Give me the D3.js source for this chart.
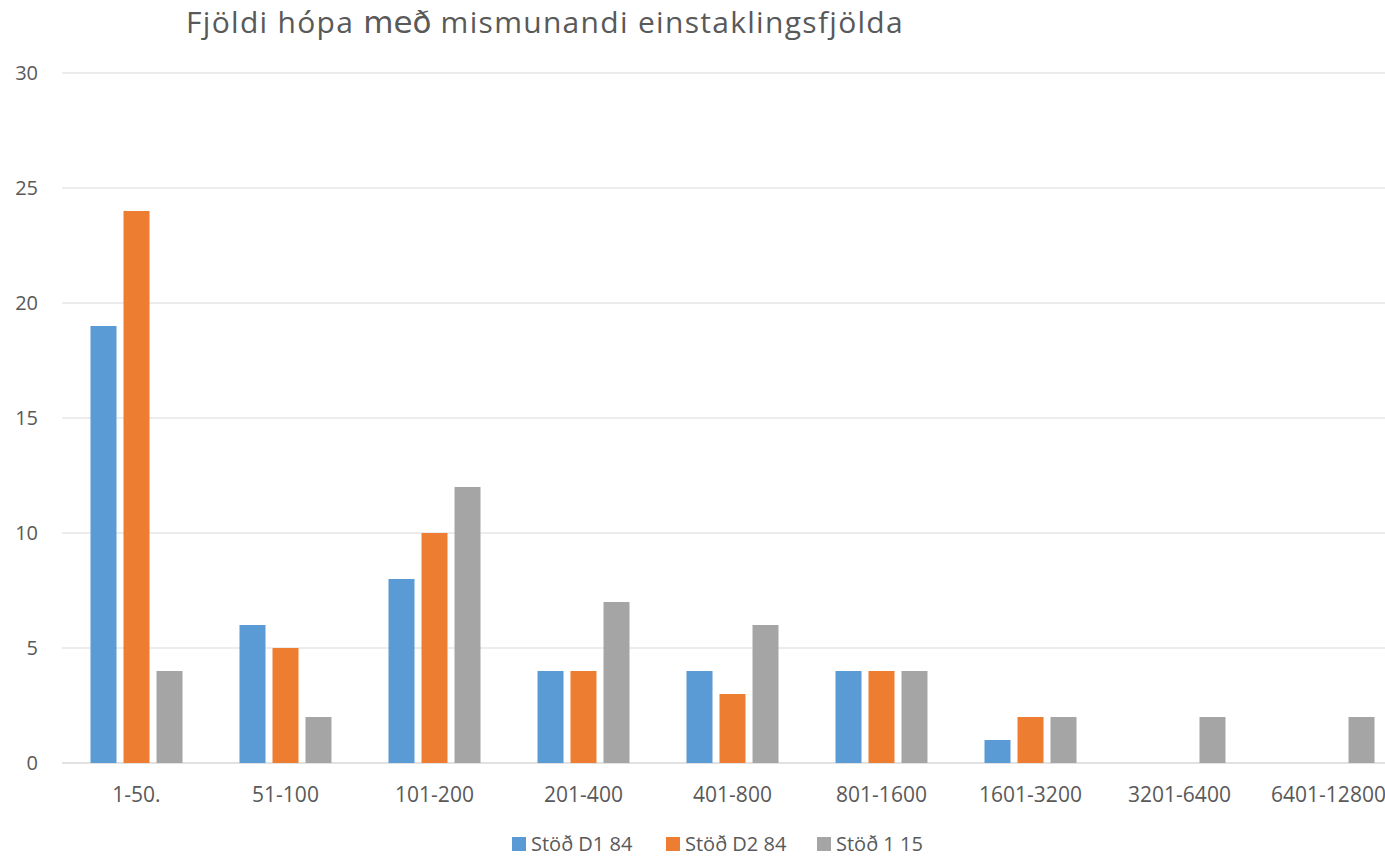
<!DOCTYPE html>
<html><head><meta charset="utf-8">
<script src="https://cdn.jsdelivr.net/npm/d3@7"></script>
<style>body{margin:0;background:#fff}svg{display:block}</style>
</head><body>
<svg id="c" width="1385" height="856"></svg>
<script>
const categories = ["1-50.","51-100","101-200","201-400","401-800","801-1600","1601-3200","3201-6400","6401-12800"];
const seriesNames = ["Stöð D1 84","Stöð D2 84","Stöð 1 15"];
const seriesD1 = [19,6,8,4,4,4,1,0,0];
const seriesD2 = [24,5,10,4,3,4,2,0,0];
const series115 = [4,2,12,7,6,4,2,2,2];
const yTicks = [0,5,10,15,20,25,30];
const colors = ["#5B9BD5","#ED7D31","#A5A5A5"];

(function(){
const allSeries = [seriesD1, seriesD2, series115];
const svg = d3.select("#c");
const font = "'Open Sans', 'Liberation Sans', sans-serif";
const pL = 62, pR = 1403, pT = 73, pB = 763;

const x0 = d3.scaleBand().domain(categories).range([pL, pR]).padding(0);
const step = x0.bandwidth();
const groupW = 92;
const x1 = d3.scaleBand().domain(seriesNames).range([(step-groupW)/2, (step+groupW)/2]).paddingInner(7/33).paddingOuter(0);
const y = d3.scaleLinear().domain([0,30]).range([pB, pT]);

svg.append("g").selectAll("line").data(yTicks).join("line")
  .attr("x1", pL).attr("x2", 1385)
  .attr("y1", d => y(d)).attr("y2", d => y(d))
  .attr("stroke", "#D9D9D9").attr("stroke-width", d => d===0 ? 1.5 : 1.2);

svg.append("g").selectAll("text").data(yTicks).join("text")
  .attr("x", 38).attr("y", d => y(d)).attr("dy", "0.36em")
  .attr("text-anchor", "end").attr("font-family", font).attr("font-size", 20)
  .attr("fill", "#595959").text(d => d);

const g = svg.append("g");
categories.forEach((c, i) => {
  seriesNames.forEach((s, j) => {
    const v = allSeries[j][i];
    if (v > 0) {
      g.append("rect")
        .attr("x", x0(c) + x1(s)).attr("width", x1.bandwidth())
        .attr("y", y(v)).attr("height", y(0) - y(v))
        .attr("fill", colors[j]);
    }
  });
});

svg.append("g").selectAll("text").data(categories).join("text")
  .attr("x", d => x0(d) + step/2).attr("y", 802)
  .attr("text-anchor", "middle").attr("font-family", font).attr("font-size", 21)
  .attr("fill", "#595959").text(d => d);

const t = svg.append("text").attr("x", 186).attr("y", 33)
  .attr("font-family", font).attr("font-size", 30).attr("fill", "#595959")
  .attr("letter-spacing", 1.3);
t.append("tspan").text("Fjöldi hópa ");
t.append("tspan").attr("font-family", "'DejaVu Sans', sans-serif").attr("font-size", 31).attr("letter-spacing", 0).text("með");
t.append("tspan").text(" mismunandi einstaklingsfjölda");

const legX = [512, 666, 817];
const lg = svg.append("g");
seriesNames.forEach((s, j) => {
  lg.append("rect").attr("x", legX[j]).attr("y", 837).attr("width", 14).attr("height", 14).attr("fill", colors[j]);
  lg.append("text").attr("x", legX[j] + 19).attr("y", 851)
    .attr("font-family", font).attr("font-size", 20).attr("fill", "#595959").text(s);
});
})();
</script>
</body></html>
